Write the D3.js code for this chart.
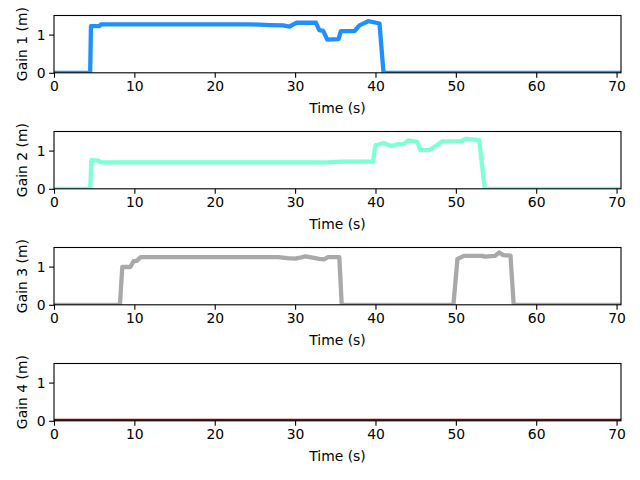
<!DOCTYPE html>
<html>
<head>
<meta charset="utf-8">
<script src="https://cdn.jsdelivr.net/npm/d3@7"></script>
<style>
  body { margin: 0; background: #fff; }
  svg { display: block; font-family: "DejaVu Sans", sans-serif; }
</style>
</head>
<body>
<svg id="chart" width="640" height="480"></svg>
<script>
// gain traces
const t1 = [0, 4.5, 4.6, 5.6, 5.9, 24.5, 25.5, 27, 28.5, 29.3, 29.8, 30.2, 32.6, 33.0, 33.5, 34.0, 35.4, 35.7, 37.4, 38.0, 38.6, 39.1, 40.1, 40.5, 41.0, 70.6]
const g1 = [0, 0, 1.22, 1.22, 1.27, 1.27, 1.26, 1.25, 1.24, 1.21, 1.27, 1.31, 1.31, 1.12, 1.1, 0.87, 0.88, 1.09, 1.09, 1.24, 1.3, 1.35, 1.31, 1.29, 0, 0]

const t2 = [0, 4.5, 4.65, 5.5, 5.9, 34.0, 35.8, 39.7, 40.0, 41.0, 42.0, 42.8, 43.5, 44.1, 45.2, 45.6, 46.8, 47.5, 48.3, 50.7, 51.2, 51.6, 52.9, 53.6, 70.6]
const g2 = [0, 0, 0.75, 0.74, 0.69, 0.69, 0.71, 0.71, 1.14, 1.2, 1.12, 1.17, 1.17, 1.27, 1.23, 1.01, 1.02, 1.12, 1.24, 1.25, 1.31, 1.3, 1.28, 0, 0]

const t3 = [0, 8.2, 8.5, 9.5, 9.9, 10.3, 10.8, 27.9, 29.0, 30.0, 30.8, 31.3, 32.0, 33.0, 33.6, 34.1, 35.5, 35.8, 49.7, 50.2, 51.0, 53.3, 53.6, 54.9, 55.4, 55.9, 56.8, 57.2, 70.6]
const g3 = [0, 0, 0.99, 0.99, 1.14, 1.15, 1.25, 1.25, 1.22, 1.21, 1.24, 1.27, 1.24, 1.2, 1.19, 1.25, 1.25, 0, 0, 1.2, 1.28, 1.28, 1.26, 1.28, 1.37, 1.3, 1.29, 0, 0]

const t4 = [0, 70.6]
const g4 = [0, 0]

const panels = [
  {name: 'Gain 1 (m)', t: t1, g: g1, color: '#1e90ff'},
  {name: 'Gain 2 (m)', t: t2, g: g2, color: '#7fffd4'},
  {name: 'Gain 3 (m)', t: t3, g: g3, color: '#a9a9a9'},
  {name: 'Gain 4 (m)', t: t4, g: g4, color: '#8b0000'}
]
const xTicks = [0, 10, 20, 30, 40, 50, 60, 70]
const yTicks = [0, 1]

const left = 54, right = 621, top0 = 15.5, ph = 57.3, gap = 116

const svg = d3.select('#chart')

const x = d3.scaleLinear().domain([0, 70.55]).range([left, right])

panels.forEach((p, i) => {
  const top = top0 + i * gap
  const y = d3.scaleLinear().domain([0, 1.5]).range([top + ph, top])

  svg.append('clipPath').attr('id', 'clip' + i)
    .append('rect').attr('x', left).attr('y', top).attr('width', right - left).attr('height', ph)

  const line = d3.line().x((d, j) => x(p.t[j])).y(d => y(d))
  svg.append('path')
    .datum(p.g)
    .attr('clip-path', 'url(#clip' + i + ')')
    .attr('d', line)
    .attr('fill', 'none')
    .attr('stroke', p.color)
    .attr('stroke-width', 4.3)
    .attr('stroke-linejoin', 'round')

  const xa = svg.append('g')
    .attr('transform', 'translate(0,' + (top + ph) + ')')
    .call(d3.axisBottom(x).tickValues(xTicks).tickSize(4.9).tickPadding(3.5).tickSizeOuter(0))
  const ya = svg.append('g')
    .attr('transform', 'translate(' + left + ',0)')
    .call(d3.axisLeft(y).tickValues(yTicks).tickFormat(d3.format('d')).tickSize(4.9).tickPadding(3.5).tickSizeOuter(0))
  ;[xa, ya].forEach(a => {
    a.select('.domain').remove()
    a.selectAll('line').attr('stroke', '#000').attr('stroke-width', 1.1)
    a.selectAll('text').attr('font-size', 13.9).attr('fill', '#000')
      .attr('font-family', '"DejaVu Sans", sans-serif')
  })

  svg.append('rect')
    .attr('x', left).attr('y', top).attr('width', right - left).attr('height', ph)
    .attr('fill', 'none').attr('stroke', '#000').attr('stroke-width', 1.1)

  svg.append('text')
    .attr('x', (left + right) / 2).attr('y', top + ph + 40)
    .attr('text-anchor', 'middle')
    .attr('font-size', 13.9)
    .text('Time (s)')

  svg.append('text')
    .attr('transform', 'translate(27,' + (top + ph / 2) + ') rotate(-90)')
    .attr('text-anchor', 'middle')
    .attr('font-size', 13.9)
    .text(p.name)
})
</script>
</body>
</html>
